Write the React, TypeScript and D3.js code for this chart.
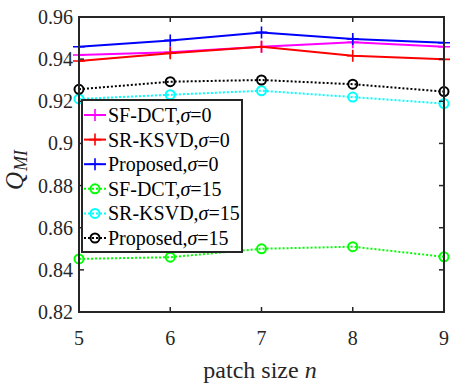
import { useEffect, useRef } from "react";
import * as d3 from "d3";

// patch sizes on the x axis
const patchSizes = [5, 6, 7, 8, 9];
const yTicks = [0.82, 0.84, 0.86, 0.88, 0.9, 0.92, 0.94, 0.96];

// Q_MI values
const sfDct0 = [0.942, 0.9433, 0.9459, 0.948, 0.9459];
const srKsvd0 = [0.9391, 0.9428, 0.9459, 0.9416, 0.9399];
const proposed0 = [0.9459, 0.9489, 0.9527, 0.9496, 0.9478];
const sfDct15 = [0.8452, 0.846, 0.85, 0.851, 0.8462];
const srKsvd15 = [0.9211, 0.9231, 0.925, 0.922, 0.9189];
const proposed15 = [0.9257, 0.9293, 0.9301, 0.9281, 0.9246];

const seriesNames = ["SF-DCT", "SR-KSVD", "Proposed", "SF-DCT", "SR-KSVD", "Proposed"];
const seriesSigma = ["0", "0", "0", "15", "15", "15"];
const seriesValues = [sfDct0, srKsvd0, proposed0, sfDct15, srKsvd15, proposed15];
const seriesColors = ["#ff00ff", "#ff0000", "#0000ff", "#00ff00", "#00ffff", "#000000"];

const App = () => {
  const ref = useRef<SVGSVGElement | null>(null);

  useEffect(() => {
    if (!ref.current) return;
    const svg = d3.select(ref.current);
    svg.selectAll("*").remove();

    const W = 457;
    const H = 388;
    const left = 79, right = 444, top = 17, bottom = 312;
    const font = "Liberation Serif";
    const axisColor = "#262626";

    const x = d3.scaleLinear().domain([5, 9]).range([left, right]);
    const y = d3.scaleLinear().domain([0.82, 0.96]).range([bottom, top]);

    svg.append("rect").attr("width", W).attr("height", H).attr("fill", "#fff");

    const series = seriesValues.map((vals, i) => ({
      name: seriesNames[i],
      sigma: seriesSigma[i],
      color: seriesColors[i],
      dotted: seriesSigma[i] !== "0",
      points: vals.map((v, j) => ({ n: patchSizes[j], v })),
    }));

    const line = d3
      .line<{ n: number; v: number }>()
      .x((d) => x(d.n))
      .y((d) => y(d.v));

    const plot = svg.append("g");

    const drawMarker = (g: any, cx: number, cy: number, s: any) => {
      if (s.dotted) {
        g.append("circle")
          .attr("cx", cx)
          .attr("cy", cy)
          .attr("r", 4.5)
          .attr("fill", "none")
          .attr("stroke", s.color)
          .attr("stroke-width", 2);
      } else {
        const h = 6;
        g.append("path")
          .attr("d", `M${cx - h},${cy}H${cx + h}M${cx},${cy - h}V${cy + h}`)
          .attr("stroke", s.color)
          .attr("stroke-width", 1.6);
      }
    };

    series.forEach((s) => {
      plot
        .append("path")
        .datum(s.points)
        .attr("d", line)
        .attr("fill", "none")
        .attr("stroke", s.color)
        .attr("stroke-width", 2)
        .attr("stroke-dasharray", s.dotted ? "2,2" : null);
      s.points.forEach((p) => drawMarker(plot, x(p.n), y(p.v), s));
    });

    // axes box
    const axes = svg.append("g");
    axes
      .append("rect")
      .attr("x", left)
      .attr("y", top)
      .attr("width", right - left)
      .attr("height", bottom - top)
      .attr("fill", "none")
      .attr("stroke", axisColor)
      .attr("stroke-width", 2);

    const tl = 5;
    patchSizes.forEach((n) => {
      axes.append("line")
        .attr("x1", x(n)).attr("x2", x(n))
        .attr("y1", bottom).attr("y2", bottom - tl)
        .attr("stroke", axisColor).attr("stroke-width", 1.5);
      axes.append("line")
        .attr("x1", x(n)).attr("x2", x(n))
        .attr("y1", top).attr("y2", top + tl)
        .attr("stroke", axisColor).attr("stroke-width", 1.5);
      axes.append("text")
        .attr("x", x(n))
        .attr("y", bottom + 33)
        .attr("text-anchor", "middle")
        .attr("font-family", font)
        .attr("font-size", 20)
        .attr("fill", axisColor)
        .text(n);
    });

    yTicks.forEach((t) => {
      axes.append("line")
        .attr("x1", left).attr("x2", left + tl)
        .attr("y1", y(t)).attr("y2", y(t))
        .attr("stroke", axisColor).attr("stroke-width", 1.5);
      axes.append("line")
        .attr("x1", right).attr("x2", right - tl)
        .attr("y1", y(t)).attr("y2", y(t))
        .attr("stroke", axisColor).attr("stroke-width", 1.5);
      axes.append("text")
        .attr("x", left - 6)
        .attr("y", y(t) + 7)
        .attr("text-anchor", "end")
        .attr("font-family", font)
        .attr("font-size", 20)
        .attr("fill", axisColor)
        .text(d3.format("~g")(t));
    });

    // axis labels
    const xl = svg.append("text")
      .attr("x", 260)
      .attr("y", 378)
      .attr("text-anchor", "middle")
      .attr("font-family", font)
      .attr("font-size", 24)
      .attr("fill", axisColor);
    xl.append("tspan").text("patch size ");
    xl.append("tspan").attr("font-style", "italic").text("n");

    const yl = svg.append("text")
      .attr("transform", "translate(23,170) rotate(-90)")
      .attr("text-anchor", "middle")
      .attr("font-family", font)
      .attr("fill", axisColor);
    yl.append("tspan").attr("font-style", "italic").attr("font-size", 25).text("Q");
    yl.append("tspan")
      .attr("dy", 4)
      .attr("dx", 1)
      .attr("font-style", "italic")
      .attr("font-size", 18)
      .text("MI");

    // legend
    const lg = svg.append("g");
    lg.append("rect")
      .attr("x", 82)
      .attr("y", 100)
      .attr("width", 160)
      .attr("height", 152)
      .attr("fill", "#fff")
      .attr("stroke", axisColor)
      .attr("stroke-width", 2);

    series.forEach((s, i) => {
      const cy = 115 + i * 24.6;
      lg.append("line")
        .attr("x1", 84).attr("x2", 106)
        .attr("y1", cy).attr("y2", cy)
        .attr("stroke", s.color)
        .attr("stroke-width", 2)
        .attr("stroke-dasharray", s.dotted ? "2,2" : null);
      drawMarker(lg, 95, cy, s);
      const t = lg.append("text")
        .attr("x", 108)
        .attr("y", cy + 7)
        .attr("font-family", font)
        .attr("font-size", 20)
        .attr("fill", "#000");
      t.append("tspan").text(s.name + ",");
      t.append("tspan").attr("font-style", "italic").text("σ");
      t.append("tspan").text("=" + s.sigma);
    });
  }, []);

  return (
    <svg
      ref={ref}
      width={457}
      height={388}
      style={{ position: "absolute", left: 0, top: 0, display: "block" }}
    />
  );
};

export default App;
